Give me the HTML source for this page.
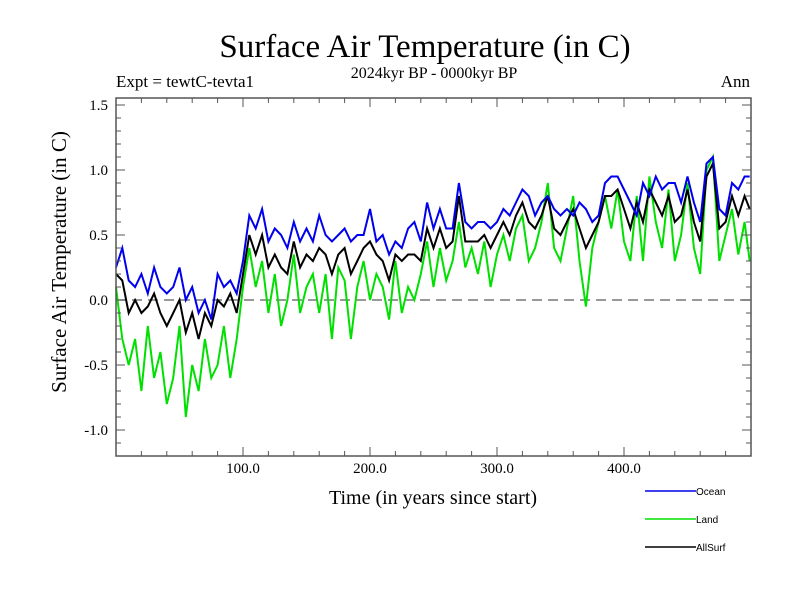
<!DOCTYPE html>
<html><head><meta charset="utf-8"><style>
body{margin:0;background:#fff}
svg text{font-family:"Liberation Serif",serif}
</style></head><body>
<svg id="chart" width="800" height="600" xmlns="http://www.w3.org/2000/svg">
<text x="425" y="57" font-size="33" text-anchor="middle">Surface Air Temperature (in C)</text>
<text x="434" y="78" font-size="16" text-anchor="middle">2024kyr BP - 0000kyr BP</text>
<text x="116" y="87" font-size="17">Expt = tewtC-tevta1</text>
<text x="750" y="87" font-size="17" text-anchor="end">Ann</text>
<text transform="translate(66,262) rotate(-90)" font-size="21" text-anchor="middle">Surface Air Temperature (in C)</text>
<text x="433" y="504" font-size="20" text-anchor="middle">Time (in years since start)</text>
<g id="plot"></g>
<g id="legend"></g>
</svg>
<script>
const years=[0,5,10,15,20,25,30,35,40,45,50,55,60,65,70,75,80,85,90,95,100,105,110,115,120,125,130,135,140,145,150,155,160,165,170,175,180,185,190,195,200,205,210,215,220,225,230,235,240,245,250,255,260,265,270,275,280,285,290,295,300,305,310,315,320,325,330,335,340,345,350,355,360,365,370,375,380,385,390,395,400,405,410,415,420,425,430,435,440,445,450,455,460,465,470,475,480,485,490,495,499];
const ocean=[0.25,0.4,0.15,0.1,0.2,0.05,0.25,0.1,0.05,0.1,0.25,0.0,0.1,-0.1,0.0,-0.15,0.2,0.1,0.15,0.05,0.3,0.65,0.55,0.7,0.45,0.55,0.5,0.4,0.6,0.45,0.55,0.45,0.65,0.5,0.45,0.5,0.55,0.45,0.5,0.5,0.7,0.45,0.5,0.35,0.45,0.4,0.55,0.6,0.45,0.75,0.55,0.7,0.55,0.55,0.9,0.6,0.55,0.6,0.6,0.55,0.6,0.7,0.65,0.75,0.85,0.8,0.65,0.75,0.8,0.7,0.65,0.7,0.65,0.75,0.7,0.6,0.65,0.9,0.95,0.95,0.85,0.75,0.65,0.9,0.8,0.95,0.85,0.9,0.9,0.75,0.95,0.75,0.6,1.05,1.1,0.7,0.65,0.9,0.85,0.95,0.95];
const land=[0.1,-0.3,-0.5,-0.3,-0.7,-0.2,-0.6,-0.4,-0.8,-0.6,-0.2,-0.9,-0.5,-0.7,-0.3,-0.6,-0.5,-0.2,-0.6,-0.3,0.1,0.4,0.1,0.3,-0.1,0.2,-0.2,0.0,0.35,-0.1,0.1,0.2,-0.1,0.2,-0.3,0.25,0.15,-0.3,0.1,0.3,0.0,0.2,0.1,-0.15,0.3,-0.1,0.1,0.0,0.2,0.45,0.1,0.4,0.15,0.3,0.6,0.25,0.4,0.2,0.45,0.1,0.35,0.5,0.3,0.55,0.65,0.3,0.4,0.6,0.9,0.4,0.3,0.55,0.8,0.3,-0.05,0.4,0.6,0.8,0.55,0.85,0.45,0.3,0.8,0.3,0.95,0.6,0.4,0.85,0.3,0.5,0.9,0.4,0.2,1.0,1.1,0.3,0.5,0.7,0.35,0.6,0.3];
const allsurf=[0.2,0.15,-0.1,0.0,-0.1,-0.05,0.05,-0.1,-0.2,-0.1,0.0,-0.25,-0.1,-0.3,-0.1,-0.2,0.0,-0.05,0.05,-0.1,0.2,0.5,0.35,0.5,0.25,0.35,0.25,0.2,0.45,0.25,0.35,0.3,0.4,0.35,0.2,0.35,0.4,0.2,0.3,0.4,0.45,0.35,0.3,0.15,0.35,0.3,0.35,0.35,0.3,0.55,0.4,0.55,0.4,0.45,0.8,0.45,0.45,0.45,0.5,0.4,0.5,0.6,0.5,0.65,0.75,0.6,0.55,0.65,0.8,0.55,0.5,0.6,0.7,0.55,0.4,0.5,0.6,0.8,0.8,0.85,0.7,0.55,0.75,0.6,0.85,0.75,0.65,0.8,0.6,0.65,0.85,0.6,0.45,0.95,1.05,0.55,0.6,0.8,0.65,0.8,0.7];
const xTickLabels=["100.0","200.0","300.0","400.0"];
const xTickValues=[100,200,300,400];
const yTickLabels=["-1.0","-0.5","0.0","0.5","1.0","1.5"];
const yTickValues=[-1.0,-0.5,0.0,0.5,1.0,1.5];

const L=116,R=751,T=98,B=456;
const xs=v=>L+(v-0)*(R-L)/500;
const ys=v=>300-v*130;
const NS="http://www.w3.org/2000/svg";
const plot=document.getElementById('plot');
function mk(t,a,p){const e=document.createElementNS(NS,t);for(const k in a)e.setAttribute(k,a[k]);(p||plot).appendChild(e);return e;}

let z=mk('line',{x1:L,x2:R,y1:ys(0),y2:ys(0),stroke:'#777','stroke-width':1.5,'stroke-dasharray':'10,6'});



function series(vals,color,name){
  const d=vals.map((v,i)=>(i?'L':'M')+xs(years[i]).toFixed(1)+','+ys(v).toFixed(1)).join('');
  const p=mk('path',{d:d,fill:'none',stroke:color,'stroke-width':2});
  
  
}
series(land,'#00e000','land-line');
series(allsurf,'#000','allsurf-line');
series(ocean,'#0000ee','ocean-line');

let fr=mk('rect',{x:L,y:T,width:R-L,height:B-T,fill:'none',stroke:'#555','stroke-width':1.5});



for(let v=20;v<500;v+=20){
  const x=xs(v),len=(v%100===0)?9:5;
  mk('line',{x1:x,x2:x,y1:B,y2:B-len,stroke:'#555'});
  mk('line',{x1:x,x2:x,y1:T,y2:T+len,stroke:'#555'});
}
xTickValues.forEach((v,i)=>{
  const t=mk('text',{x:xs(v),y:473,'font-size':15,'text-anchor':'middle'});
  t.textContent=xTickLabels[i];
  
  
});
for(let k=-11;k<=15;k++){
  const v=k/10,y=ys(v),len=(k%5===0)?9:5;
  if(y<T||y>B)continue;
  mk('line',{x1:L,x2:L+len,y1:y,y2:y,stroke:'#555'});
  mk('line',{x1:R,x2:R-len,y1:y,y2:y,stroke:'#555'});
}
yTickValues.forEach((v,i)=>{
  const t=mk('text',{x:108,y:ys(v)+5,'font-size':15,'text-anchor':'end'});
  t.textContent=yTickLabels[i];
  
  
});

const lg=document.getElementById('legend');
[['Ocean','#0000ee',491],['Land','#00e000',519],['AllSurf','#000',547]].forEach(e=>{
  const l=mk('line',{x1:645,x2:696,y1:e[2],y2:e[2],stroke:e[1],'stroke-width':1.5},lg);
  
  
  const t=mk('text',{x:696,y:e[2]+4,'font-size':10},lg);
  t.setAttribute('style','font-family:"Liberation Sans",sans-serif');
  t.textContent=e[0];
  
  
});
</script>
</body></html>
